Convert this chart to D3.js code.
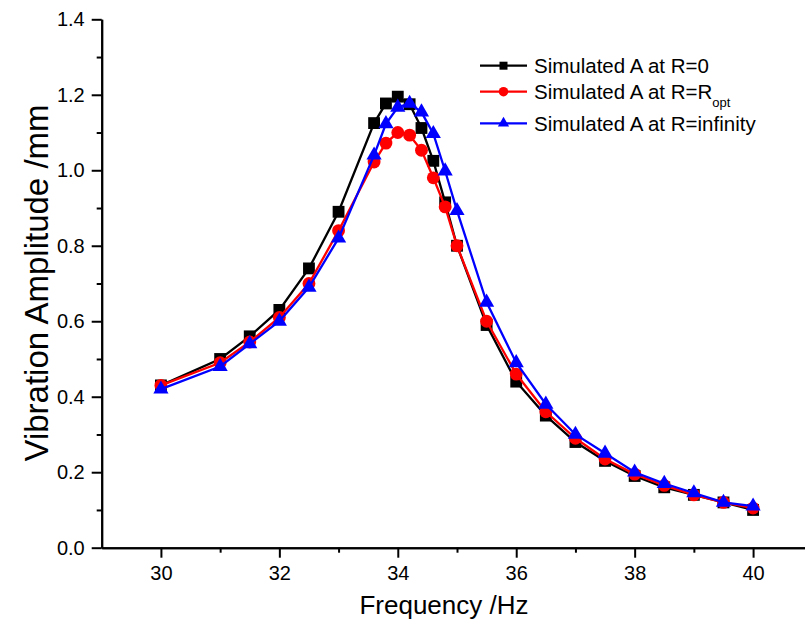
<!DOCTYPE html>
<html>
<head>
<meta charset="utf-8">
<script src="https://cdn.jsdelivr.net/npm/d3@7"></script>
<style>
  body { margin: 0; background: white; }
  text { font-family: "Liberation Sans", Arial, sans-serif; fill: black; }
</style>
</head>
<body>
<div id="chart"></div>
<script>
// data
let freq = [30, 31, 31.5, 32, 32.5, 33, 33.6, 33.8, 34, 34.2, 34.4, 34.6, 34.8, 35, 35.5, 36, 36.5, 37, 37.5, 38, 38.5, 39, 39.5, 40];
let ampR0 = [0.43, 0.50, 0.56, 0.63, 0.74, 0.89, 1.125, 1.177, 1.195, 1.175, 1.112, 1.025, 0.915, 0.80, 0.59, 0.44, 0.35, 0.28, 0.23, 0.19, 0.16, 0.14, 0.12, 0.10];
let ampRopt = [0.43, 0.49, 0.545, 0.61, 0.70, 0.84, 1.022, 1.072, 1.10, 1.093, 1.053, 0.98, 0.903, 0.80, 0.60, 0.46, 0.36, 0.29, 0.235, 0.195, 0.165, 0.14, 0.12, 0.105];
let ampRinf = [0.42, 0.48, 0.54, 0.60, 0.69, 0.82, 1.04, 1.123, 1.167, 1.177, 1.154, 1.097, 0.998, 0.893, 0.65, 0.49, 0.38, 0.30, 0.25, 0.20, 0.17, 0.145, 0.12, 0.11];

let xMajor = [30, 32, 34, 36, 38, 40];
let xMinor = [31, 33, 35, 37, 39];
let yMajor = [0, 0.2, 0.4, 0.6, 0.8, 1.0, 1.2, 1.4];
let yMinor = [0.1, 0.3, 0.5, 0.7, 0.9, 1.1, 1.3];

let seriesNames = ["R=0", "R=Ropt", "R=infinity"];
let seriesColors = ["black", "#ff0000", "#0000ff"];
let seriesShapes = [d3.symbolSquare, d3.symbolCircle, d3.symbolTriangle];

let w = 805, h = 630;

let svg = d3.select("#chart")
    .append("svg")
    .attr("width", w)
    .attr("height", h)
;

let xScale = d3.scaleLinear().domain([29, 41]).range([101.7, 812.3]);
let yScale = d3.scaleLinear().domain([0, 1.4]).range([547.7, 19.3]);

// axes
let xAxisGroup = svg.append("g").attr("transform", "translate(0," + yScale(0) + ")");
xAxisGroup.call(d3.axisBottom(xScale).tickValues(xMajor).tickSize(10).tickSizeOuter(0).tickPadding(8).tickFormat(d3.format("d")));
let xMinorGroup = svg.append("g").attr("transform", "translate(0," + yScale(0) + ")");
xMinorGroup.call(d3.axisBottom(xScale).tickValues(xMinor).tickSize(5).tickSizeOuter(0).tickFormat(""));

let yAxisGroup = svg.append("g").attr("transform", "translate(" + xScale(29) + ",0)");
yAxisGroup.call(d3.axisLeft(yScale).tickValues(yMajor).tickSize(10).tickSizeOuter(0).tickPadding(7).tickFormat(d3.format(".1f")));
let yMinorGroup = svg.append("g").attr("transform", "translate(" + xScale(29) + ",0)");
yMinorGroup.call(d3.axisLeft(yScale).tickValues(yMinor).tickSize(5).tickSizeOuter(0).tickFormat(""));

svg.selectAll(".domain, .tick line")
    .attr("stroke", "black")
    .attr("stroke-width", 2)
;
svg.selectAll(".tick text")
    .style("font-size", "20px")
    .style("font-family", "'Liberation Sans', Arial, sans-serif")
;

// axis titles
svg.append("text")
    .attr("x", 444)
    .attr("y", 614)
    .attr("text-anchor", "middle")
    .style("font-size", "26px")
    .text("Frequency /Hz")
;
svg.append("text")
    .attr("transform", "translate(48,283) rotate(-90)")
    .attr("text-anchor", "middle")
    .style("font-size", "33px")
    .text("Vibration Amplitude /mm")
;

// series
let allSeries = [ampR0, ampRopt, ampRinf];
let line = d3.line()
    .x(d => xScale(d.x))
    .y(d => yScale(d.y))
;

allSeries.forEach((vals, i) => {
  let pts = freq.map((f, j) => ({x: f, y: vals[j]}));
  let g = svg.append("g").attr("class", "series");
  g.append("path")
    .datum(pts)
    .attr("d", line)
    .attr("fill", "none")
    .attr("stroke", seriesColors[i])
    .attr("stroke-width", 2.3)
  ;
  let sizes = [140, 130, 100];
  g.selectAll("path.marker")
    .data(pts)
    .enter()
    .append("path")
    .attr("class", "marker")
    .attr("transform", d => "translate(" + xScale(d.x) + "," + yScale(d.y) + ")")
    .attr("d", d3.symbol().type(seriesShapes[i]).size(sizes[i]))
    .attr("fill", seriesColors[i])
  ;
});

// legend
let legendRows = [65.7, 91.7, 123.3];
let legendSizes = [64, 70, 55];
seriesNames.forEach((name, i) => {
  let g = svg.append("g").attr("transform", "translate(480," + legendRows[i] + ")");
  g.append("line")
    .attr("x1", 0).attr("x2", 47)
    .attr("stroke", seriesColors[i])
    .attr("stroke-width", 2.3)
  ;
  g.append("path")
    .attr("transform", "translate(23.5,0)")
    .attr("d", d3.symbol().type(seriesShapes[i]).size(legendSizes[i]))
    .attr("fill", seriesColors[i])
  ;
  let t = g.append("text")
    .attr("x", 54)
    .attr("y", 7.5)
    .style("font-size", "20.5px")
  ;
  if (name == "R=Ropt") {
    t.append("tspan").text("Simulated A at R=R");
    t.append("tspan").attr("dy", 8).style("font-size", "13px").text("opt");
  } else {
    t.text("Simulated A at " + name);
  }
});
</script>
</body>
</html>
